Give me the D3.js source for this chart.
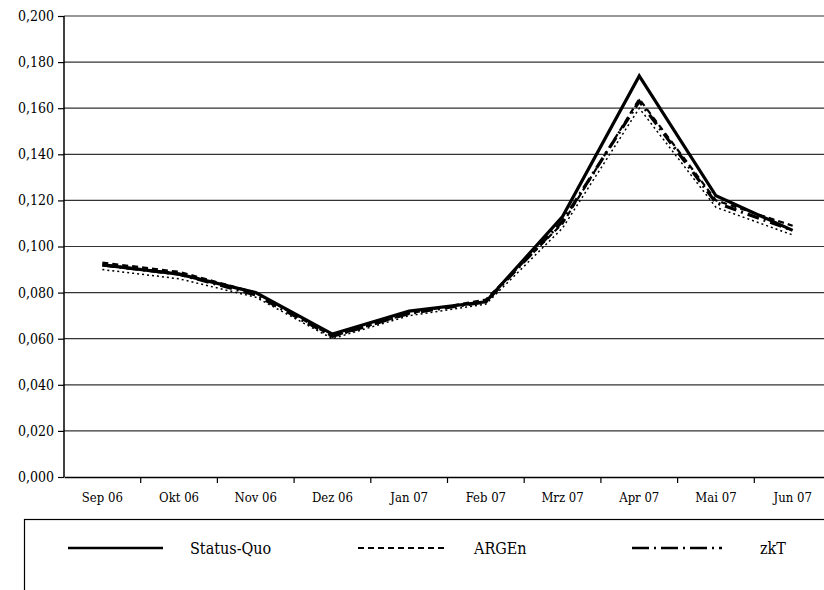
<!DOCTYPE html>
<html><head><meta charset="utf-8">
<script src="https://cdn.jsdelivr.net/npm/d3@7"></script>
<style>body{margin:0;background:#fff}svg{display:block}
svg text{font-family:"DejaVu Serif Condensed","DejaVu Serif";font-stretch:condensed;}</style>
</head><body>
<svg id="c" width="824" height="590"></svg>
<script>
const categories = ["Sep 06","Okt 06","Nov 06","Dez 06","Jan 07","Feb 07","Mrz 07","Apr 07","Mai 07","Jun 07"];
const statusQuo = [0.092,0.088,0.080,0.062,0.072,0.076,0.113,0.174,0.122,0.107];
const argen     = [0.093,0.089,0.080,0.061,0.071,0.077,0.110,0.164,0.120,0.109];
const zkt       = [0.092,0.088,0.079,0.061,0.071,0.076,0.111,0.163,0.119,0.107];
const extra     = [0.090,0.086,0.078,0.060,0.070,0.075,0.108,0.160,0.117,0.105];
const yTicks = [0,0.02,0.04,0.06,0.08,0.10,0.12,0.14,0.16,0.18,0.20];
const seriesNames = ["Status-Quo","ARGEn","zkT"];

const svg = d3.select("#c");
const L = 64, R = 831, T = 16, B = 477;
const x = d3.scaleBand().domain(categories).range([L, R]);
const y = d3.scaleLinear().domain([0, 0.2]).range([B, T]);
const fmt = v => d3.format(".3f")(v).replace(".", ",");

svg.append("g").selectAll("line").data(yTicks.filter(d => d > 0)).join("line")
  .attr("x1", L).attr("x2", R).attr("y1", d => y(d)).attr("y2", d => y(d))
  .attr("stroke", "#333").attr("stroke-width", 1.2);

const ya = svg.append("g").attr("transform", `translate(${L},0)`)
  .call(d3.axisLeft(y).tickValues(yTicks).tickFormat(fmt).tickSize(6).tickPadding(4));
ya.attr("font-family", null);
ya.select(".domain").attr("stroke", "#000").attr("stroke-width", 1.5).attr("d", `M-0,${T}V${B}`);
ya.selectAll(".tick line").attr("stroke", "#000").attr("stroke-width", 1.2);
ya.selectAll("text").attr("font-size", 14).attr("fill", "#000");

const xa = svg.append("g").attr("transform", `translate(0,${B})`)
  .call(d3.axisBottom(x).tickSize(0).tickPadding(16));
xa.attr("font-family", null);
xa.select(".domain").attr("stroke", "#000").attr("stroke-width", 1.5);
xa.selectAll("text").attr("font-size", 13).attr("fill", "#000");
xa.selectAll("line.sep").data(categories.slice(1)).join("line").attr("class","sep")
  .attr("x1", d => x(d)).attr("x2", d => x(d)).attr("y1", 0).attr("y2", 6)
  .attr("stroke", "#000").attr("stroke-width", 1.2);

const line = d3.line().x((d, i) => x(categories[i]) + x.bandwidth() / 2).y(d => y(d));
const styles = [
  {data: extra, w: 1.5, dash: "2,3"},
  {data: zkt, w: 3.2, dash: "12,5,2,5"},
  {data: argen, w: 2.2, dash: "6,4"},
  {data: statusQuo, w: 3.2, dash: null}
];
svg.append("g").selectAll("path").data(styles).join("path")
  .attr("d", d => line(d.data)).attr("fill", "none").attr("stroke", "#000")
  .attr("stroke-width", d => d.w).attr("stroke-dasharray", d => d.dash)
  .attr("stroke-linejoin", "miter");

const lg = svg.append("g");
lg.append("rect").attr("x", 24.5).attr("y", 519.5).attr("width", 820).attr("height", 100)
  .attr("fill", "none").attr("stroke", "#000").attr("stroke-width", 1.2);
const legItems = [
  {name: seriesNames[0], x1: 68, x2: 163, tx: 190, w: 2.5, dash: null},
  {name: seriesNames[1], x1: 358, x2: 447, tx: 474, w: 2, dash: "6,4"},
  {name: seriesNames[2], x1: 632, x2: 722, tx: 760, w: 2.5, dash: "17,5,2,5"}
];
legItems.forEach(it => {
  lg.append("line").attr("x1", it.x1).attr("x2", it.x2).attr("y1", 548).attr("y2", 548)
    .attr("stroke", "#000").attr("stroke-width", it.w).attr("stroke-dasharray", it.dash);
  lg.append("text").attr("x", it.tx).attr("y", 548).attr("dy", "0.35em")
    .attr("font-size", 16).attr("fill", "#000").text(it.name);
});
</script>
</body></html>
